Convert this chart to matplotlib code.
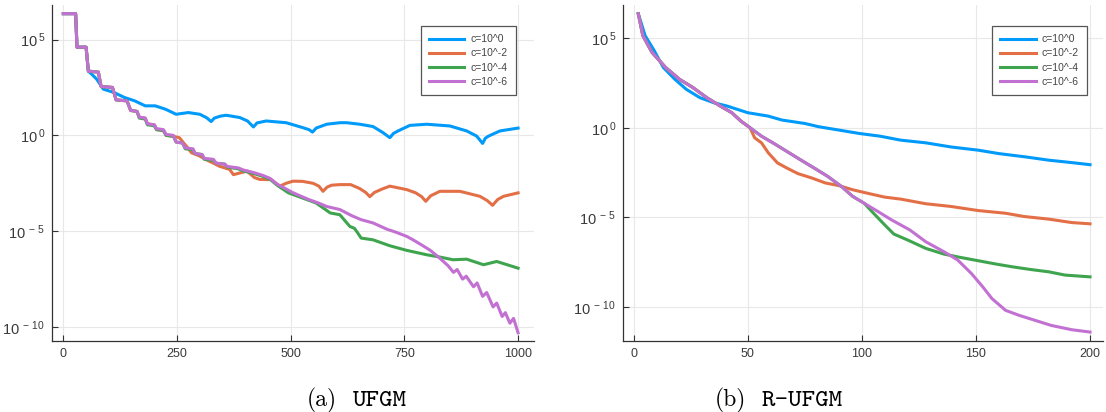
import numpy as np
import matplotlib
matplotlib.use('Agg')
import matplotlib.pyplot as plt

plt.rcParams['font.family'] = ['Liberation Sans', 'DejaVu Sans']
plt.rcParams['mathtext.fontset'] = 'custom'
plt.rcParams['mathtext.rm'] = 'Liberation Sans'

labels = ['c=10^0', 'c=10^-2', 'c=10^-4', 'c=10^-6']
colors = ['#009AFA', '#E36F47', '#3EA44E', '#C271D2']

# ---------------- (a) UFGM : values stored as log10 ----------------
blue_a_x = [0, 27, 30, 50, 55, 62, 73, 88, 111, 134, 157, 180, 202, 225, 248, 275, 300, 315, 325,
            332, 345, 358, 388, 405, 418, 426, 446, 490, 527, 540, 548, 556, 579, 608, 623, 652,
            681, 703, 718, 726, 736, 762, 799, 850, 887, 909, 922, 928, 935, 960, 1000]
blue_a_e = [6.35, 6.35, 4.6, 4.6, 3.35, 3.2, 2.94, 2.41, 2.24, 1.98, 1.80, 1.54, 1.54, 1.36, 1.10,
            1.19, 1.10, 0.92, 0.72, 0.90, 1.00, 1.05, 0.93, 0.75, 0.44, 0.65, 0.75, 0.66, 0.40,
            0.30, 0.17, 0.38, 0.58, 0.66, 0.66, 0.58, 0.46, 0.14, -0.12, 0.10, 0.23, 0.52, 0.58,
            0.49, 0.23, -0.04, -0.42, -0.15, -0.04, 0.23, 0.38]

orange_a_x = [0, 27, 30, 50, 55, 77, 83, 108, 116, 140, 148, 162, 167, 180, 185, 200, 205, 220,
              226, 242, 255, 270, 282, 300, 313, 330, 343, 366, 374, 390, 404, 420, 432, 457, 476,
              490, 505, 526, 549, 562, 571, 580, 590, 608, 632, 652, 665, 674, 684, 701, 718, 755,
              775, 788, 797, 808, 828, 872, 916, 932, 944, 955, 968, 1000]
orange_a_e = [6.35, 6.35, 4.6, 4.6, 3.35, 3.3, 2.55, 2.5, 1.85, 1.8, 1.3, 1.25, 0.95, 0.9, 0.6,
              0.55, 0.3, 0.25, 0.0, -0.05, -0.12, -0.55, -0.91, -1.08, -1.26, -1.45, -1.61, -1.78,
              -2.05, -1.95, -1.87, -2.2, -2.3, -2.31, -2.65, -2.5, -2.39, -2.40, -2.5, -2.65, -2.92,
              -2.7, -2.6, -2.57, -2.57, -2.78, -2.98, -3.2, -2.98, -2.8, -2.65, -2.83, -3.0, -3.2,
              -3.44, -3.15, -2.92, -2.92, -3.18, -3.4, -3.65, -3.35, -3.18, -3.0]

green_a_x = [0, 27, 30, 50, 55, 77, 83, 108, 116, 140, 148, 162, 167, 180, 185, 200, 205, 220,
             226, 242, 248, 262, 268, 285, 290, 305, 310, 330, 336, 355, 360, 385, 395, 420, 440,
             455, 470, 495, 526, 556, 587, 608, 630, 640, 645, 655, 681, 718, 755, 799, 828, 857,
             887, 924, 953, 1000]
green_a_e = [6.35, 6.35, 4.6, 4.6, 3.35, 3.3, 2.55, 2.5, 1.85, 1.8, 1.3, 1.25, 0.9, 0.85, 0.55,
             0.5, 0.3, 0.25, 0.0, -0.05, -0.35, -0.4, -0.7, -0.75, -0.95, -1.0, -1.25, -1.3, -1.45,
             -1.5, -1.65, -1.75, -1.85, -2.0, -2.15, -2.3, -2.6, -3.0, -3.27, -3.53, -4.05, -4.14,
             -4.75, -4.85, -5.01, -5.36, -5.45, -5.76, -6.0, -6.23, -6.35, -6.49, -6.46, -6.75,
             -6.58, -6.93]

purple_a_x = [0, 27, 30, 50, 55, 77, 83, 108, 116, 140, 148, 162, 167, 180, 185, 200, 205, 220,
              226, 242, 248, 262, 268, 285, 290, 305, 310, 330, 336, 355, 360, 385, 395, 420, 440,
              455, 470, 490, 503, 520, 541, 560, 579, 608, 635, 655, 681, 712, 731, 755, 769, 788,
              807, 825, 846, 858, 866, 878, 886, 902, 910, 922, 931, 945, 953, 965, 972, 982, 990,
              1000]
purple_a_e = [6.35, 6.35, 4.6, 4.6, 3.35, 3.3, 2.55, 2.5, 1.85, 1.8, 1.3, 1.25, 0.95, 0.9, 0.6,
              0.55, 0.35, 0.3, 0.05, 0.0, -0.35, -0.4, -0.65, -0.7, -0.95, -1.0, -1.2, -1.25, -1.45,
              -1.5, -1.62, -1.7, -1.8, -1.95, -2.1, -2.25, -2.55, -2.8, -2.97, -3.15, -3.36, -3.52,
              -3.71, -3.87, -4.2, -4.4, -4.57, -4.9, -5.05, -5.27, -5.45, -5.72, -6.0, -6.35, -6.8,
              -7.15, -7.0, -7.5, -7.35, -7.9, -7.7, -8.4, -8.2, -8.95, -8.75, -9.45, -9.25, -9.8,
              -9.55, -10.3]

# ---------------- (b) R-UFGM ----------------
blue_b_x = [2, 5, 9, 13, 18, 23, 29, 35, 41, 50, 59, 65, 75, 81, 90, 99, 108, 117, 128, 139, 151,
            160, 172, 182, 191, 200]
blue_b_e = [6.36, 5.14, 4.30, 3.36, 2.71, 2.15, 1.68, 1.40, 1.21, 0.84, 0.65, 0.43, 0.24, 0.06,
            -0.13, -0.32, -0.47, -0.69, -0.84, -1.07, -1.25, -1.44, -1.63, -1.81, -1.93, -2.06]

orange_b_x = [2, 4, 8, 14, 20, 26, 32, 38, 43, 47, 51, 53, 56, 59, 63, 67, 72, 78, 84, 90, 96,
              102, 110, 117, 128, 139, 151, 163, 171, 182, 192, 200]
orange_b_e = [6.36, 5.14, 4.21, 3.36, 2.71, 2.24, 1.68, 1.21, 0.84, 0.37, 0.0, -0.56, -0.84,
              -1.40, -1.96, -2.24, -2.56, -2.80, -3.08, -3.23, -3.46, -3.64, -3.87, -3.98, -4.24,
              -4.39, -4.62, -4.77, -4.95, -5.10, -5.29, -5.36]

green_b_x = [2, 4, 8, 14, 20, 26, 32, 38, 43, 47, 51, 56, 61, 67, 73, 79, 85, 91, 96, 101, 104,
             110, 114, 120, 128, 136, 143, 151, 159, 166, 174, 182, 189, 200]
green_b_e = [6.36, 5.14, 4.21, 3.36, 2.71, 2.24, 1.68, 1.21, 0.84, 0.37, 0.0, -0.47, -0.84,
             -1.31, -1.78, -2.24, -2.71, -3.27, -3.83, -4.21, -4.62, -5.42, -5.93, -6.26, -6.73,
             -7.05, -7.23, -7.42, -7.61, -7.76, -7.91, -8.04, -8.22, -8.32]

purple_b_x = [2, 4, 8, 14, 20, 26, 32, 38, 43, 47, 51, 56, 61, 67, 73, 79, 85, 91, 96, 101, 107,
              113, 121, 128, 136, 142, 148, 153, 157, 163, 169, 176, 183, 192, 200]
purple_b_e = [6.36, 5.14, 4.21, 3.36, 2.71, 2.24, 1.68, 1.21, 0.84, 0.37, 0.0, -0.47, -0.84,
              -1.31, -1.78, -2.24, -2.71, -3.27, -3.83, -4.21, -4.67, -5.14, -5.70, -6.36, -6.92,
              -7.38, -8.13, -8.88, -9.53, -10.19, -10.47, -10.75, -11.03, -11.27, -11.40]

data_a = [(blue_a_x, blue_a_e), (orange_a_x, orange_a_e), (green_a_x, green_a_e), (purple_a_x, purple_a_e)]
data_b = [(blue_b_x, blue_b_e), (orange_b_x, orange_b_e), (green_b_x, green_b_e), (purple_b_x, purple_b_e)]

fig = plt.figure(figsize=(11.06, 4.12), dpi=100)
ax_a = fig.add_axes([0.0470, 0.1723, 0.4354, 0.8155])
ax_b = fig.add_axes([0.5633, 0.1723, 0.4340, 0.8155])


def style(ax, data, xlim, ylim, xticks, anchor):
    for (x, e), c, lab in zip(data, colors, labels):
        ax.plot(x, 10.0 ** np.array(e), color=c, lw=2.2, label=lab, solid_joinstyle='round')
    ax.set_yscale('log')
    ax.set_xlim(*xlim)
    ax.set_ylim(10.0 ** ylim[0], 10.0 ** ylim[1])
    ax.set_xticks(xticks)
    ax.set_xticklabels([str(t) for t in xticks])
    ax.set_yticks([1e5, 1e0, 1e-5, 1e-10])
    ax.set_yticklabels([r'$\mathregular{10^{\,5}}$', r'$\mathregular{10^{\,0}}$',
                        r'$\mathregular{10^{\,-\,5}}$', r'$\mathregular{10^{\,-\,10}}$'])
    ax.minorticks_off()
    ax.grid(True, color='#e8e8e8', lw=0.8)
    ax.set_axisbelow(True)
    for s in ['top', 'right']:
        ax.spines[s].set_visible(False)
    for s in ['left', 'bottom']:
        ax.spines[s].set_color('#333333')
        ax.spines[s].set_linewidth(0.9)
    ax.tick_params(direction='in', length=4, width=0.8, color='#333333',
                   labelcolor='#3a3a3a', pad=5)
    ax.tick_params(axis='x', labelsize=9)
    ax.tick_params(axis='y', labelsize=10.5)
    leg = ax.legend(loc='upper right', bbox_to_anchor=anchor, bbox_transform=fig.transFigure,
                    fontsize=7.5, frameon=True, fancybox=False, framealpha=1,
                    edgecolor='#555555', handlelength=3.4, handletextpad=0.6,
                    labelspacing=0.4, borderpad=0.8, borderaxespad=0)
    leg.get_frame().set_linewidth(0.9)
    for t in leg.get_texts():
        t.set_color('#444444')


style(ax_a, data_a, (-25, 1034), (-10.73, 6.80), [0, 250, 500, 750, 1000], (0.4666, 0.937))
style(ax_b, data_b, (-4.7, 205.7), (-11.9, 6.85), [0, 50, 100, 150, 200], (0.9831, 0.937))

# captions
fig.text(307 / 1106, 0.0146, '(a)', family='cmr10', fontsize=17, ha='left', va='baseline')
fig.text(353 / 1106, 0.0146, 'UFGM', family='cmtt10', fontsize=18.5, ha='left', va='baseline')
fig.text(715 / 1106, 0.0146, '(b)', family='cmr10', fontsize=17, ha='left', va='baseline')
fig.text(762 / 1106, 0.0146, 'R-UFGM', family='cmtt10', fontsize=18.5, ha='left', va='baseline')

fig.savefig('out.png', dpi=100)
